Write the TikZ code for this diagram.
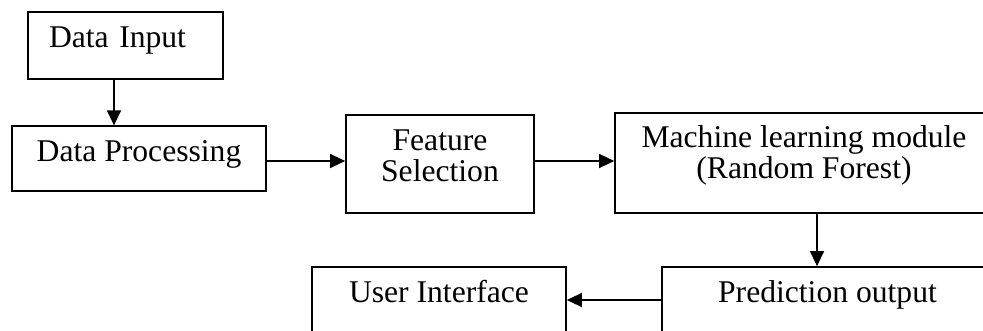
\documentclass[tikz,border=0pt]{standalone}
\usepackage{fontspec}
\setmainfont{Liberation Serif}
\usetikzlibrary{arrows.meta}

\begin{document}
\begin{tikzpicture}[x=0.02cm, y=-0.02cm,
        box/.style={draw, line width=1pt, inner xsep=0pt, inner ysep=0pt, align=center,
            text height=0.71cm, font=\fontsize{18}{17.6}\selectfont},
        arr/.style={line width=0.8pt, -{Triangle[length=0.3cm, width=0.28cm]}}]
        \useasboundingbox (0,0) rectangle (983,331);
        \clip (0,0) rectangle (983,331);

        % Boxes.
        \node[box, align=left, inner xsep=0.42cm, text width=3.06cm, text depth=0.63cm] (input) at (125.5,45.5) {Data Input};
        \node[box, minimum width=5.08cm, text depth=0.58cm] (proc) at (139,158.5) {Data Processing};
        \node[box, minimum width=3.76cm, text height=1.33cm, text depth=0.63cm] (feat) at (440,164) {Feature\\Selection};
        \node[box, minimum width=7.56cm, text height=1.31cm, text depth=0.69cm] (ml) at (804,163) {Machine learning module\\(Random Forest)};
        \node[box, minimum width=6.62cm, text depth=0.61cm] (pred) at (827.5,300) {Prediction output};
        \node[box, minimum width=5.08cm, text depth=0.61cm] (ui) at (439,300) {User Interface};

        % Arrows.
        \draw[arr] ([xshift=-0.23cm]input.south) -- ([xshift=-0.23cm]input.south |- proc.north);
        \draw[arr] ([yshift=-0.05cm]proc.east) -- ([yshift=-0.05cm]proc.east -| feat.west);
        \draw[arr] ([yshift=0.06cm]feat.east) -- ([yshift=0.06cm]feat.east -| ml.west);
        \draw[arr] ([xshift=0.26cm]ml.south) -- ([xshift=0.26cm]ml.south |- pred.north);
        \draw[arr] (pred.west) -- (ui.east);
    \end{tikzpicture}
\end{document}
